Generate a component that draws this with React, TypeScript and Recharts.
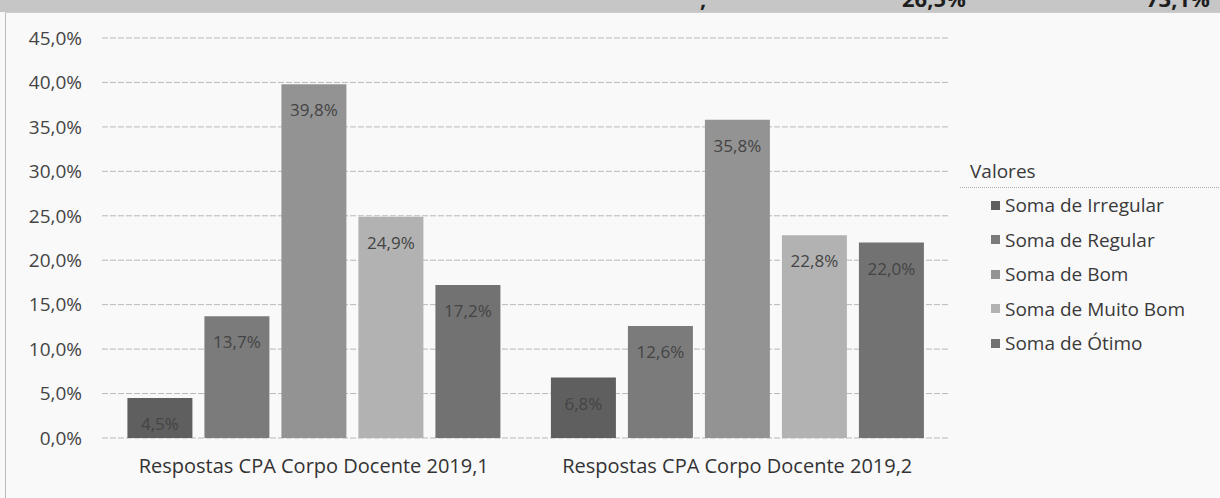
import React from 'react';
import { BarChart, Bar, XAxis, YAxis, CartesianGrid, Legend, LabelList } from 'recharts';

const categories = ['Respostas CPA Corpo Docente 2019,1', 'Respostas CPA  Corpo Docente 2019,2'];
const irregular = [4.5, 6.8];
const regular = [13.7, 12.6];
const bom = [39.8, 35.8];
const muitoBom = [24.9, 22.8];
const otimo = [17.2, 22.0];
const yTicks = [0, 5, 10, 15, 20, 25, 30, 35, 40, 45];

const series = [
  { key: 'irregular', name: 'Soma de Irregular', color: '#5f5f5f' },
  { key: 'regular', name: 'Soma de Regular', color: '#7b7b7b' },
  { key: 'bom', name: 'Soma de Bom', color: '#939393' },
  { key: 'muitoBom', name: 'Soma de Muito Bom', color: '#b2b2b2' },
  { key: 'otimo', name: 'Soma de Ótimo', color: '#727272' },
];

const data = categories.map((name, i) => ({
  name,
  irregular: irregular[i],
  regular: regular[i],
  bom: bom[i],
  muitoBom: muitoBom[i],
  otimo: otimo[i],
}));

const FONT = '"Open Sans", Lato, sans-serif';
const pct = (v: number) => `${Number(v).toFixed(1).replace('.', ',')}%`;

function LegendBox() {
  return (
    <div style={{ fontFamily: FONT, color: '#3a3a3a', fontSize: 19 }}>
      <div
        style={{
          paddingLeft: 10,
          height: 32,
          lineHeight: '32px',
          width: 250,
          borderBottom: '1px dotted #aaa',
          borderRight: '1px dotted #aaa',
        }}
      >
        Valores
      </div>
      {series.map((s) => (
        <div key={s.key} style={{ display: 'flex', alignItems: 'center', height: 34.5, paddingLeft: 31 }}>
          <span style={{ width: 9, height: 9, background: s.color, display: 'inline-block', marginRight: 5 }} />
          <span>{s.name}</span>
        </div>
      ))}
    </div>
  );
}

export default function App() {
  return (
    <div
      style={{
        position: 'absolute',
        left: 0,
        top: 0,
        width: 1220,
        height: 498,
        background: '#f9f9f9',
        overflow: 'hidden',
      }}
    >
      {/* strip from the page above, cut off as in the scan */}
      <div
        style={{
          position: 'absolute',
          left: 0,
          top: 0,
          width: 1220,
          height: 12,
          background: '#c6c6c6',
          overflow: 'hidden',
          fontFamily: FONT,
          fontWeight: 700,
          fontSize: 22,
          color: '#1e1e1e',
        }}
      >
        <span style={{ position: 'absolute', left: 700, top: -17 }}>,</span>
        <span style={{ position: 'absolute', left: 902, top: -17 }}>26,5%</span>
        <span style={{ position: 'absolute', left: 1146, top: -17 }}>73,1%</span>
      </div>
      <div style={{ position: 'absolute', left: 5, top: 12, width: 1, height: 486, background: '#bbb' }} />
      <div style={{ position: 'absolute', left: 5, top: 12, width: 1215, height: 1, background: '#ccc' }} />

      <BarChart
        width={1220}
        height={498}
        data={data}
        margin={{ top: 38, right: 11, bottom: 0, left: 0 }}
        barCategoryGap="6%"
        barGap={12}
        style={{ position: 'absolute', left: 0, top: 0 }}
      >
        <CartesianGrid vertical={false} stroke="#b8b8b8" strokeDasharray="6 2" />
        <XAxis
          dataKey="name"
          height={60}
          tickLine={false}
          axisLine={false}
          tickSize={0}
          tickMargin={21}
          tick={{ fill: '#333', fontSize: 20, fontFamily: FONT }}
          interval={0}
        />
        <YAxis
          width={102}
          domain={[0, 45]}
          ticks={yTicks}
          tickFormatter={pct}
          tickLine={false}
          axisLine={false}
          tickSize={0}
          tickMargin={20}
          tick={{ fill: '#444', fontSize: 19, fontFamily: FONT }}
        />
        <Legend
          layout="vertical"
          align="right"
          verticalAlign="top"
          content={() => <LegendBox />}
          wrapperStyle={{ position: 'absolute', left: 960, top: 155, width: 260 }}
        />
        {series.map((s) => (
          <Bar key={s.key} dataKey={s.key} name={s.name} fill={s.color} isAnimationActive={false}>
            <LabelList
              dataKey={s.key}
              position="insideTop"
              offset={20}
              formatter={(v: number) => pct(v)}
              style={{ fill: '#444', fontSize: 17, fontFamily: FONT }}
            />
          </Bar>
        ))}
      </BarChart>
    </div>
  );
}
